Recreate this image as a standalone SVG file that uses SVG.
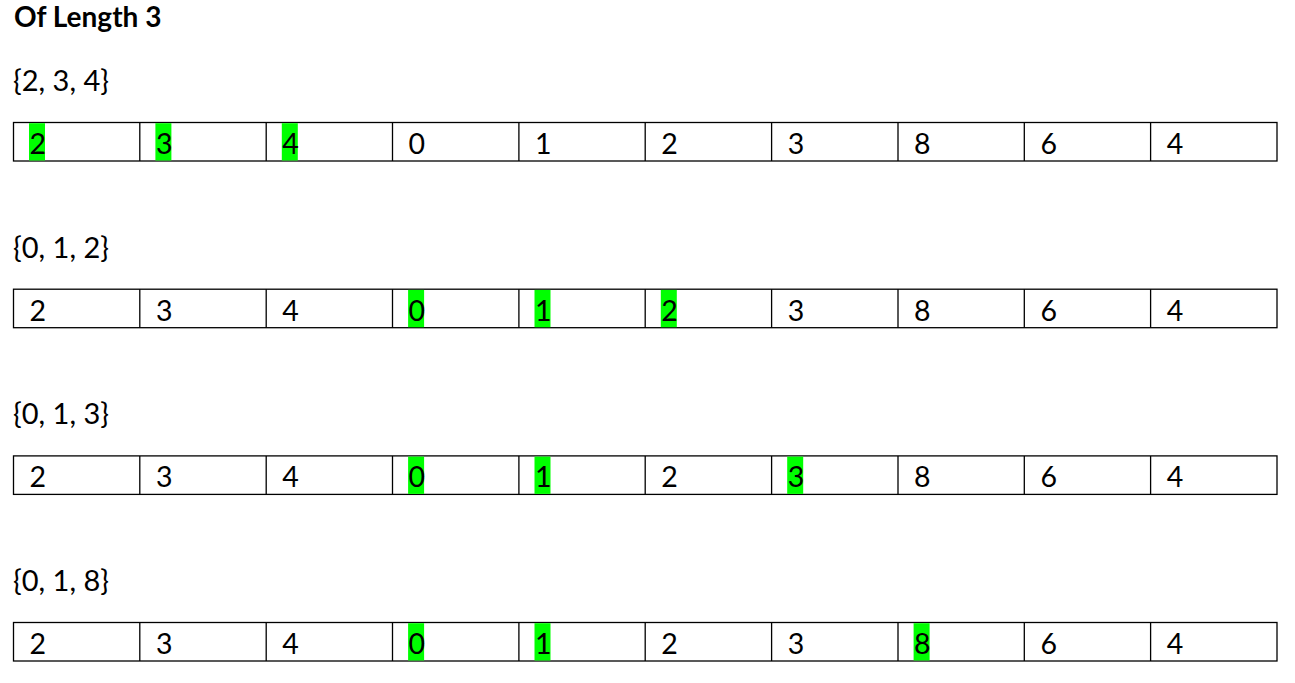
<svg xmlns="http://www.w3.org/2000/svg" width="1295" height="683" viewBox="0 0 1295 683">
<style>
text{font-family:Lato,"Open Sans","Liberation Sans",sans-serif;fill:#000}
.t{font-size:28px;font-weight:bold}
.l{font-size:29px}
.c{font-size:28.5px}
.cell{fill:#fff;stroke:#000;stroke-width:1.3}
.hl{fill:#00ff00}
</style>
<rect width="1295" height="683" fill="#fff"/>
<g id="title"><text class="t" x="14" y="27">Of Length 3</text></g>

<g id="set1">
<text class="l" x="13" y="91">{2, 3, 4}</text>
<g id="table1">
<rect class="cell" x="13.5" y="122.5" width="1263.5" height="38.5"/>
<path d="M139.8 122.5V161M266.2 122.5V161M392.5 122.5V161M518.9 122.5V161M645.2 122.5V161M771.6 122.5V161M898 122.5V161M1024.3 122.5V161M1150.6 122.5V161" stroke="#000" stroke-width="1.3" fill="none"/>
<rect class="hl" x="29" y="123.2" width="16" height="37.3"/>
<rect class="hl" x="155.4" y="123.2" width="16" height="37.3"/>
<rect class="hl" x="281.8" y="123.2" width="16" height="37.3"/>
<text class="c" y="154"><tspan x="29.5">2</tspan><tspan x="155.9">3</tspan><tspan x="282.3">4</tspan><tspan x="408.6">0</tspan><tspan x="535">1</tspan><tspan x="661.3">2</tspan><tspan x="787.7">3</tspan><tspan x="914.1">8</tspan><tspan x="1040.4">6</tspan><tspan x="1166.8">4</tspan></text>
</g>
</g>

<g id="set2">
<text class="l" x="13" y="257.5">{0, 1, 2}</text>
<g id="table2">
<rect class="cell" x="13.5" y="289.2" width="1263.5" height="38.5"/>
<path d="M139.8 289.2V327.7M266.2 289.2V327.7M392.5 289.2V327.7M518.9 289.2V327.7M645.2 289.2V327.7M771.6 289.2V327.7M898 289.2V327.7M1024.3 289.2V327.7M1150.6 289.2V327.7" stroke="#000" stroke-width="1.3" fill="none"/>
<rect class="hl" x="408.1" y="289.9" width="16" height="37.3"/>
<rect class="hl" x="534.5" y="289.9" width="16" height="37.3"/>
<rect class="hl" x="660.8" y="289.9" width="16" height="37.3"/>
<text class="c" y="320.7"><tspan x="29.5">2</tspan><tspan x="155.9">3</tspan><tspan x="282.3">4</tspan><tspan x="408.6">0</tspan><tspan x="535">1</tspan><tspan x="661.3">2</tspan><tspan x="787.7">3</tspan><tspan x="914.1">8</tspan><tspan x="1040.4">6</tspan><tspan x="1166.8">4</tspan></text>
</g>
</g>

<g id="set3">
<text class="l" x="13" y="424">{0, 1, 3}</text>
<g id="table3">
<rect class="cell" x="13.5" y="455.9" width="1263.5" height="38.5"/>
<path d="M139.8 455.9V494.4M266.2 455.9V494.4M392.5 455.9V494.4M518.9 455.9V494.4M645.2 455.9V494.4M771.6 455.9V494.4M898 455.9V494.4M1024.3 455.9V494.4M1150.6 455.9V494.4" stroke="#000" stroke-width="1.3" fill="none"/>
<rect class="hl" x="408.1" y="456.6" width="16" height="37.3"/>
<rect class="hl" x="534.5" y="456.6" width="16" height="37.3"/>
<rect class="hl" x="787.2" y="456.6" width="16" height="37.3"/>
<text class="c" y="487.4"><tspan x="29.5">2</tspan><tspan x="155.9">3</tspan><tspan x="282.3">4</tspan><tspan x="408.6">0</tspan><tspan x="535">1</tspan><tspan x="661.3">2</tspan><tspan x="787.7">3</tspan><tspan x="914.1">8</tspan><tspan x="1040.4">6</tspan><tspan x="1166.8">4</tspan></text>
</g>
</g>

<g id="set4">
<text class="l" x="13" y="590.5">{0, 1, 8}</text>
<g id="table4">
<rect class="cell" x="13.5" y="622.5" width="1263.5" height="38.5"/>
<path d="M139.8 622.5V661M266.2 622.5V661M392.5 622.5V661M518.9 622.5V661M645.2 622.5V661M771.6 622.5V661M898 622.5V661M1024.3 622.5V661M1150.6 622.5V661" stroke="#000" stroke-width="1.3" fill="none"/>
<rect class="hl" x="408.1" y="623.2" width="16" height="37.3"/>
<rect class="hl" x="534.5" y="623.2" width="16" height="37.3"/>
<rect class="hl" x="913.6" y="623.2" width="16" height="37.3"/>
<text class="c" y="654"><tspan x="29.5">2</tspan><tspan x="155.9">3</tspan><tspan x="282.3">4</tspan><tspan x="408.6">0</tspan><tspan x="535">1</tspan><tspan x="661.3">2</tspan><tspan x="787.7">3</tspan><tspan x="914.1">8</tspan><tspan x="1040.4">6</tspan><tspan x="1166.8">4</tspan></text>
</g>
</g>
<g id="connectors"/>
</svg>
